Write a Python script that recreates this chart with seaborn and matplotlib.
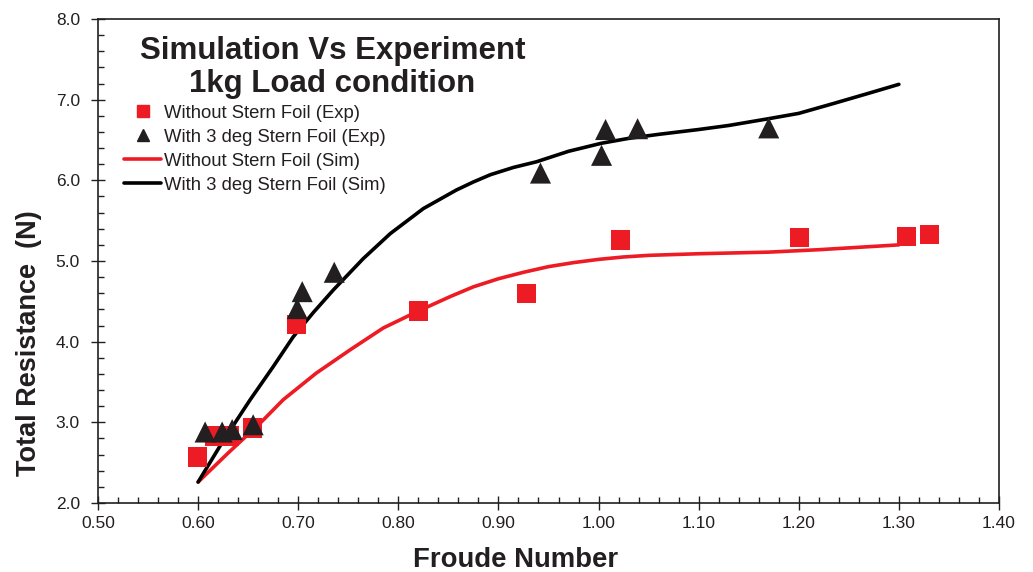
import matplotlib
matplotlib.use("Agg")
import matplotlib.pyplot as plt
import seaborn as sns
import pandas as pd
from matplotlib.ticker import MultipleLocator, FormatStrFormatter
from matplotlib.lines import Line2D

# Experimental data
exp_wo_x = [0.599, 0.616, 0.631, 0.654, 0.698, 0.820, 0.928, 1.022, 1.201, 1.308, 1.331]
exp_wo_y = [2.57, 2.83, 2.83, 2.93, 4.21, 4.38, 4.60, 5.26, 5.29, 5.30, 5.33]

exp_w3_x = [0.607, 0.624, 0.634, 0.655, 0.699, 0.704, 0.736, 0.942, 1.003, 1.007, 1.039, 1.170]
exp_w3_y = [2.88, 2.88, 2.91, 2.97, 4.41, 4.62, 4.86, 6.09, 6.31, 6.63, 6.64, 6.65]

# Simulation curves
sim_wo_x = [0.600, 0.630, 0.662, 0.685, 0.718, 0.752, 0.785, 0.820, 0.852, 0.875, 0.900,
            0.925, 0.950, 0.975, 1.000, 1.025, 1.050, 1.100, 1.135, 1.170, 1.220, 1.260, 1.300]
sim_wo_y = [2.26, 2.62, 2.99, 3.28, 3.61, 3.90, 4.17, 4.38, 4.56, 4.68, 4.78,
            4.86, 4.93, 4.98, 5.02, 5.05, 5.07, 5.09, 5.10, 5.11, 5.14, 5.17, 5.20]

sim_w3_x = [0.600, 0.625, 0.652, 0.675, 0.695, 0.715, 0.735, 0.765, 0.792, 0.825, 0.858,
            0.875, 0.892, 0.915, 0.938, 0.970, 1.003, 1.030, 1.060, 1.100, 1.130, 1.168,
            1.200, 1.234, 1.270, 1.300]
sim_w3_y = [2.26, 2.77, 3.28, 3.69, 4.06, 4.36, 4.64, 5.03, 5.34, 5.65, 5.88,
            5.98, 6.07, 6.16, 6.23, 6.36, 6.46, 6.52, 6.57, 6.63, 6.68, 6.76,
            6.83, 6.95, 7.08, 7.19]

labels = ["Without Stern Foil (Exp)", "With 3 deg Stern Foil (Exp)",
          "Without Stern Foil (Sim)", "With 3 deg Stern Foil (Sim)"]

RED = "#ed1c24"
DARK = "#231f20"

sns.set_style("ticks")
plt.rcParams["font.family"] = ["Liberation Sans", "DejaVu Sans"]
plt.rcParams["lines.solid_capstyle"] = "round"
plt.rcParams["lines.solid_joinstyle"] = "round"

fig = plt.figure(figsize=(10.33, 5.72), dpi=100)
ax = fig.add_axes([98/1033, 69/572, 901/1033, 484/572])

df_sw = pd.DataFrame({"x": sim_wo_x, "y": sim_wo_y})
df_s3 = pd.DataFrame({"x": sim_w3_x, "y": sim_w3_y})
df_ew = pd.DataFrame({"x": exp_wo_x, "y": exp_wo_y})
df_e3 = pd.DataFrame({"x": exp_w3_x, "y": exp_w3_y})

sns.lineplot(data=df_sw, x="x", y="y", ax=ax, color=RED, lw=2.6, sort=False, zorder=2)
sns.lineplot(data=df_s3, x="x", y="y", ax=ax, color="black", lw=2.6, sort=False, zorder=2)
sns.scatterplot(data=df_ew, x="x", y="y", ax=ax, marker="s", s=190, color=RED,
                edgecolor="none", linewidth=0, zorder=3)
sns.scatterplot(data=df_e3, x="x", y="y", ax=ax, marker="^", s=230, color=DARK,
                edgecolor="none", linewidth=0, zorder=4)

ax.set_xlim(0.5, 1.4)
ax.set_ylim(2.0, 8.0)
ax.xaxis.set_major_locator(MultipleLocator(0.1))
ax.xaxis.set_minor_locator(MultipleLocator(0.02))
ax.yaxis.set_major_locator(MultipleLocator(1.0))
ax.yaxis.set_minor_locator(MultipleLocator(0.2))
ax.xaxis.set_major_formatter(FormatStrFormatter("%.2f"))
ax.yaxis.set_major_formatter(FormatStrFormatter("%.1f"))
ax.tick_params(which="major", direction="inout", length=10, width=1.0, color=DARK,
               labelsize=12.5, labelcolor=DARK)
ax.tick_params(axis="y", which="major", pad=8)
ax.tick_params(axis="x", which="major", pad=4)
ax.tick_params(which="minor", direction="in", length=4, width=1.0, color=DARK)
ax.tick_params(top=False, right=False, which="both")
for sp in ax.spines.values():
    sp.set_visible(True)
    sp.set_linewidth(1.2)
    sp.set_color(DARK)

ax.set_xlabel("Froude Number", fontsize=19.8, fontweight="bold", color=DARK)
ax.set_ylabel("Total Resistance  (N)", fontsize=19.5, fontweight="bold", color=DARK)
ax.xaxis.set_label_coords(0.463, -0.091)
ax.yaxis.set_label_coords(-0.062, 0.33)

ax.text(0.26, 0.965, "Simulation Vs Experiment\n1kg Load condition", transform=ax.transAxes,
        ha="center", va="top", fontsize=22.5, fontweight="bold", color=DARK, linespacing=1.13)

handles = [
    Line2D([], [], marker="s", color=RED, ls="none", markersize=8),
    Line2D([], [], marker="^", color=DARK, ls="none", markersize=8),
    Line2D([], [], color=RED, lw=2.6),
    Line2D([], [], color="black", lw=2.6),
]
leg = ax.legend(handles, labels, loc="upper left", bbox_to_anchor=(0.021, 0.838),
                frameon=False, fontsize=13.3, handlelength=2.0, handletextpad=0.15,
                labelspacing=0.38, borderaxespad=0)
for t in leg.get_texts():
    t.set_color(DARK)

fig.savefig("out.png", dpi=100, facecolor="white")
